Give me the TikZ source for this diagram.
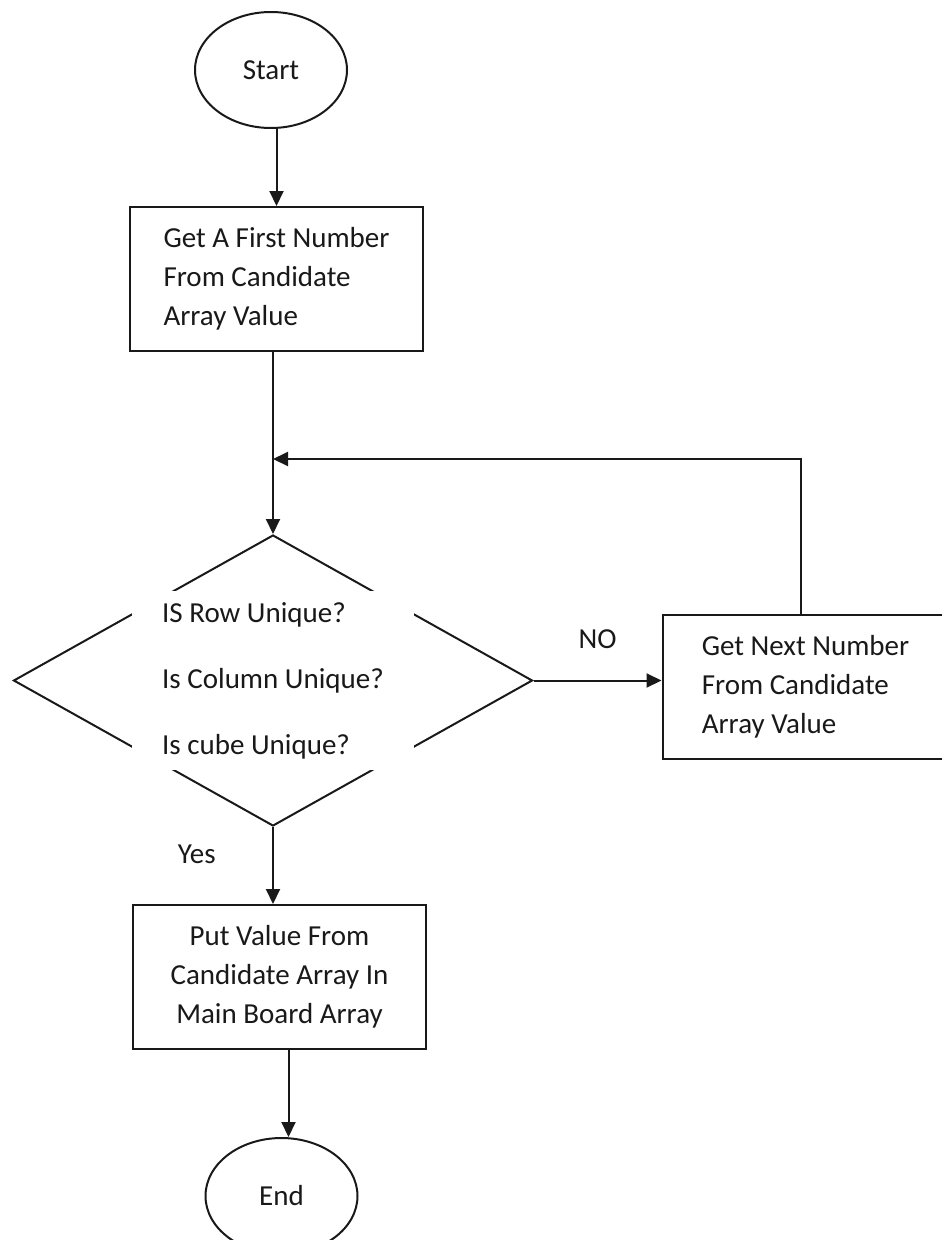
\documentclass[tikz,border=0pt]{standalone}
\usepackage{fontspec}
\setmainfont{Carlito}
\usetikzlibrary{arrows.meta,positioning,shapes.geometric}

\begin{document}
\begin{tikzpicture}[x=1pt, y=-1pt, node distance=77pt, line width=2pt, black!90,
    every node/.style={font=\fontsize{29}{39}\selectfont},
    terminal/.style={draw, ellipse, minimum width=152pt, minimum height=116pt},
    process/.style={draw, rectangle, minimum width=293pt, minimum height=144pt, align=left},
    flow/.style={-{Triangle[length=15pt, width=14pt]}}]
    \useasboundingbox (0,0) rectangle (942,1240);
    \node[terminal] (start) at (271,70) {Start};
    \node[process, below=of start, xshift=5.5pt] (first) {Get A First Number\\From Candidate\\Array Value};
    \node[draw, diamond, minimum width=519pt, minimum height=291pt, inner sep=0pt, below=182pt of first, xshift=-3.5pt] (check) {};
    \node[fill=white, minimum width=282pt, minimum height=179pt, align=left, font=\fontsize{29}{66}\selectfont] (checktext) at (check) {IS Row Unique?\\Is Column Unique?\\Is cube Unique?};
    \node[process, minimum width=286pt, right=128pt of check, yshift=-6pt] (next) {Get Next Number\\From Candidate\\Array Value};
    \node[process, align=center, below=of check, xshift=6.5pt] (put) {Put Value From\\Candidate Array In\\Main Board Array};
    \node[terminal, below=87pt of put, xshift=2pt] (stop) {End};
    \coordinate (looptop) at (798,459);
    \draw[flow] (first.north |- start.south) -- (first.north);
    \draw[flow] (check.north |- first.south) -- (check.north);
    \draw[flow] (check.east) -- node[above=27pt] (no) {NO} (check.east -| next.west);
    \draw[flow] ([xshift=-5pt]next.north) |- (check.north |- looptop);
    \draw[flow] (check.south) -- node[pos=0.35, left=53pt] (yes) {Yes} (check.south |- put.north);
    \draw[flow] ([xshift=9pt]put.south) -- ([xshift=9pt]put.south |- stop.north);
\end{tikzpicture}
\end{document}
